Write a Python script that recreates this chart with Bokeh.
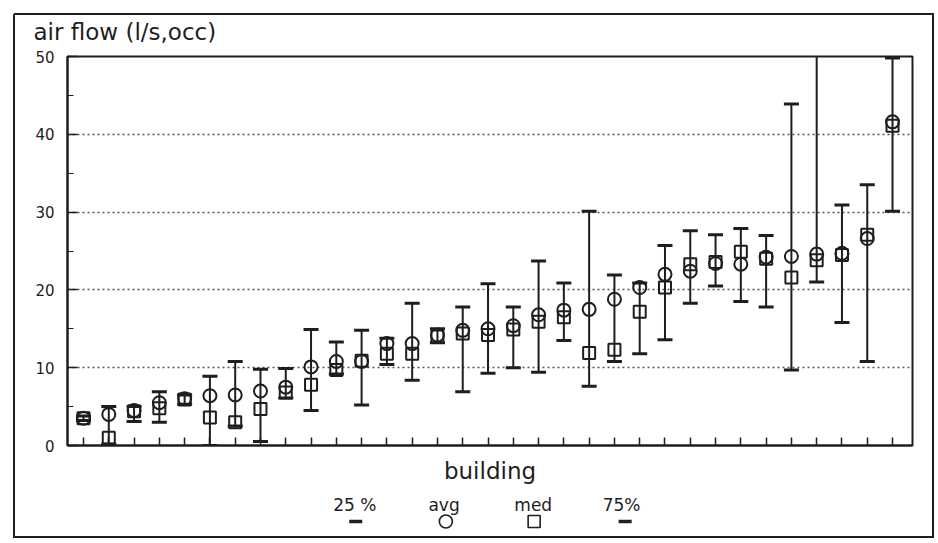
from bokeh.plotting import figure
from bokeh.layouts import column
from bokeh.models import (ColumnDataSource, Range1d, FixedTicker, SingleIntervalTicker, Title)
from bokeh.core.properties import value
from bokeh.embed import file_html
from bokeh.resources import INLINE

# ---- data ----
buildings = list(range(1, 34))
avg = [3.5, 4.0, 4.5, 5.5, 6.0, 6.4, 6.5, 7.0, 7.5, 10.1, 10.8, 10.8, 13.1, 13.1, 14.2,
       14.8, 15.0, 15.4, 16.8, 17.4, 17.5, 18.8, 20.3, 22.0, 22.4, 23.4, 23.3, 24.2,
       24.3, 24.6, 24.7, 26.6, 41.6]
med = [3.5, 1.0, 4.4, 4.8, 5.9, 3.6, 3.0, 4.7, 6.8, 7.8, 9.7, 10.9, 11.8, 11.8, 14.0,
       14.4, 14.2, 14.9, 15.9, 16.5, 11.9, 12.3, 17.2, 20.3, 23.3, 23.6, 24.9, 24.0,
       21.6, 23.8, 24.5, 27.1, 41.1]
q25 = [3.2, 0.2, 3.1, 3.0, 5.3, 0.0, 2.5, 0.5, 6.1, 4.5, 9.2, 5.2, 10.4, 8.4, 13.2,
       6.9, 9.3, 10.0, 9.4, 13.5, 7.6, 10.8, 11.8, 13.6, 18.3, 20.5, 18.5, 17.8,
       9.7, 21.0, 15.8, 10.8, 30.1]
q75 = [3.8, 5.0, 5.0, 6.9, 6.5, 8.9, 10.8, 9.8, 9.9, 14.9, 13.3, 14.8, 13.8, 18.3, 15.0,
       17.8, 20.8, 17.8, 23.7, 20.9, 30.1, 21.9, 20.9, 25.7, 27.6, 27.1, 27.9, 27.0,
       43.9, 50.5, 30.9, 33.5, 49.8]
title_text = "air flow (l/s,occ)"
x_label = "building"
legend_labels = ["25 %", "avg", "med", "75%"]
legend_markers = ["dash", "circle", "square", "dash"]

INK = "#1e1e1e"
FONT = "DejaVu Sans"

src = ColumnDataSource(dict(b=buildings, avg=avg, med=med, q25=q25, q75=q75))

# ---------------- main chart ----------------
p = figure(width=938, height=490, output_backend="svg", toolbar_location=None,
           x_range=Range1d(0.367, 33.79), y_range=Range1d(0, 50),
           min_border_left=67, min_border_right=26, min_border_top=56, min_border_bottom=45)
p.background_fill_color = "white"
p.border_fill_alpha = 0
p.outline_line_color = INK
p.outline_line_width = 2

p.add_layout(Title(text=title_text, align="left", offset=-34, standoff=24,
                   text_font=FONT, text_font_size="23px", text_font_style="normal",
                   text_color=INK), "above")

# y axis
p.yaxis.ticker = SingleIntervalTicker(interval=10, num_minor_ticks=2)
p.yaxis.axis_line_color = INK
p.yaxis.axis_line_width = 2
p.yaxis.major_tick_in = 10
p.yaxis.major_tick_out = 0
p.yaxis.minor_tick_in = 6
p.yaxis.minor_tick_out = 0
p.yaxis.major_tick_line_color = INK
p.yaxis.minor_tick_line_color = INK
p.yaxis.major_tick_line_width = 1.5
p.yaxis.major_label_standoff = 13
p.yaxis.major_label_text_font = FONT
p.yaxis.major_label_text_font_size = "15px"
p.yaxis.major_label_text_color = INK

# x axis
p.xaxis.ticker = FixedTicker(ticks=buildings, minor_ticks=[])
p.xaxis.major_label_overrides = {b: "" for b in buildings}
p.xaxis.major_label_text_font_size = "1px"
p.xaxis.major_label_standoff = 0
p.xaxis.axis_line_color = INK
p.xaxis.axis_line_width = 2
p.xaxis.major_tick_in = 8
p.xaxis.major_tick_out = 0
p.xaxis.major_tick_line_color = INK
p.xaxis.major_tick_line_width = 1.5
p.xaxis.minor_tick_line_color = None
p.xaxis.axis_label = x_label
p.xaxis.axis_label_standoff = 12
p.xaxis.axis_label_text_font = FONT
p.xaxis.axis_label_text_font_size = "23px"
p.xaxis.axis_label_text_font_style = "normal"
p.xaxis.axis_label_text_color = INK

# grid
p.xgrid.grid_line_color = None
p.ygrid.ticker = FixedTicker(ticks=[10, 20, 30, 40])
p.ygrid.grid_line_color = "#555555"
p.ygrid.grid_line_dash = "2 3"
p.ygrid.grid_line_width = 1.5

# data marks
p.segment(x0="b", y0="q25", x1="b", y1="q75", source=src, line_color=INK, line_width=2)
p.scatter(x="b", y="q25", source=src, marker="dash", size=15, line_color=INK, line_width=3)
p.scatter(x="b", y="q75", source=src, marker="dash", size=15, line_color=INK, line_width=3)
p.scatter(x="b", y="avg", source=src, marker="circle", size=13, fill_color=None,
          line_color=INK, line_width=2)
p.scatter(x="b", y="med", source=src, marker="square", size=12, fill_color=None,
          line_color=INK, line_width=2)

# ---------------- legend strip ----------------
lf = figure(width=938, height=53, output_backend="svg", toolbar_location=None,
            x_range=Range1d(0, 938), y_range=Range1d(0, 53),
            x_axis_type=None, y_axis_type=None, min_border=0)
lf.outline_line_color = None
lf.grid.visible = False
lf.background_fill_alpha = 0
lf.border_fill_alpha = 0

text_x = [319, 418, 517, 615]
mark_x = [320, 420, 518, 619]
lsrc = ColumnDataSource(dict(tx=text_x, mx=mark_x, label=legend_labels,
                             marker=legend_markers,
                             size=[13, 13, 12, 13], lw=[3.5, 1.6, 1.6, 3.5]))
lf.text(x="tx", y=39, text="label", source=lsrc, text_font=value(FONT),
        text_font_size="17px", text_color=INK, text_align="center",
        text_baseline="alphabetic")
lf.scatter(x="mx", y=22, marker="marker", size="size", line_width="lw", source=lsrc,
           fill_color=None, line_color=INK)

# outer frame of the figure (drawn as CSS background lines behind the transparent canvases)
frame_lines = "linear-gradient(#1e1e1e,#1e1e1e)"
layout = column(p, lf, spacing=0, styles={
    "background-image": ", ".join([frame_lines] * 4),
    "background-position": "14px 13px, 14px 536px, 13px 14px, 932px 14px",
    "background-size": "920px 2px, 920px 2px, 2px 524px, 2px 524px",
    "background-repeat": "no-repeat",
    "background-color": "white",
})

open("out.html", "w").write(file_html(layout, INLINE))
